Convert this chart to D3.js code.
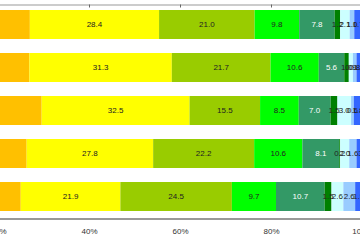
<!DOCTYPE html>
<html>
<head>
<meta charset="utf-8">
<script src="https://cdn.jsdelivr.net/npm/d3@7"></script>
<style>
  body { margin: 0; background: #fff; }
  svg { display: block; font-family: "Liberation Sans", Arial, sans-serif; }
</style>
</head>
<body>
<div id="chart"></div>
<script>
// rows (labels are cut off on the left in the reference)
const rows = ["r1", "r2", "r3", "r4", "r5"];

// series values, left to right
const sOrange = [27.0, 26.9, 29.6, 26.3, 25.0];
const sYellow = [28.4, 31.3, 32.5, 27.8, 21.9];
const sOlive = [21.0, 21.7, 15.5, 22.2, 24.5];
const sLime = [9.8, 10.6, 8.5, 10.6, 9.7];
const sTeal = [7.8, 5.6, 7.0, 8.1, 10.7];
const sDarkGreen = [1.2, 1.0, 1.5, 0.2, 1.5];
const sPaleCyan = [2.1, 0.9, 3.0, 2.0, 2.6];
const sPaleBlue = [1.0, 0.8, 0.6, 1.6, 2.6];
const sBlue = [1.7, 1.2, 1.8, 3.2, 1.5];

const seriesValues = [sOrange, sYellow, sOlive, sLime, sTeal, sDarkGreen, sPaleCyan, sPaleBlue, sBlue];
const seriesColors = ["#ffc000", "#ffff00", "#99cc00", "#00ff00", "#339966", "#008000", "#ccffff", "#99ccff", "#3366ff"];
const seriesTextColors = ["#222", "#222", "#222", "#222", "#fff", "#222", "#222", "#222", "#222"];

const tickValues = [20, 40, 60, 80, 100];

const width = 360, height = 240;

const svg = d3.select("#chart").append("svg")
    .attr("width", width)
    .attr("height", height);

// the reference is a crop: 0% lies left of the picture
const x = d3.scaleLinear()
    .domain([0, 100])
    .range([-93, 362]);

const y = d3.scaleBand()
    .domain(rows)
    .range([3, 218])
    .paddingInner(0.326)
    .paddingOuter(0.163);

// build stacked segments
let segs = [];
rows.forEach(function (r, i) {
    let acc = 0;
    seriesValues.forEach(function (vals, k) {
        segs.push({ row: r, k: k, v: vals[i], x0: acc, x1: acc + vals[i] });
        acc += vals[i];
    });
});

svg.append("g")
    .selectAll("rect")
    .data(segs).enter()
    .append("rect")
    .attr("x", d => x(d.x0))
    .attr("y", d => y(d.row))
    .attr("width", d => x(d.x1) - x(d.x0))
    .attr("height", y.bandwidth())
    .attr("fill", d => seriesColors[d.k]);

svg.append("g")
    .selectAll("text")
    .data(segs).enter()
    .append("text")
    .attr("x", d => (x(d.x0) + x(d.x1)) / 2)
    .attr("y", d => y(d.row) + y.bandwidth() / 2)
    .attr("dy", "0.35em")
    .attr("text-anchor", "middle")
    .attr("font-size", 8)
    .attr("fill", d => seriesTextColors[d.k])
    .text(d => d.v.toFixed(1));

// top frame line with small inward ticks
const topAxis = svg.append("g")
    .attr("transform", "translate(0,4.5)")
    .call(d3.axisTop(x).tickValues([40, 60, 80]).tickSizeInner(-3).tickSizeOuter(0).tickFormat(""));
topAxis.select(".domain").attr("stroke", "#999");
topAxis.selectAll(".tick line").attr("stroke", "#666");

// bottom axis
const bottomAxis = svg.append("g")
    .attr("transform", "translate(0,218.5)")
    .call(d3.axisBottom(x).tickValues(tickValues).tickSize(0).tickPadding(10)
        .tickFormat(d => d + "%"));
bottomAxis.select(".domain").attr("stroke", "#777").attr("stroke-width", 1.5);
bottomAxis.selectAll("text")
    .attr("font-size", 8)
    .attr("font-family", "Liberation Sans, Arial, sans-serif")
    .attr("fill", "#333");
</script>
</body>
</html>
